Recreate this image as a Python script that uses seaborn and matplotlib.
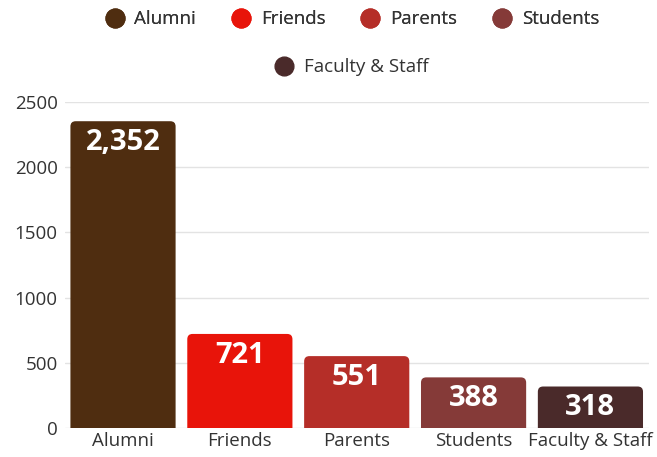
import matplotlib
matplotlib.use("Agg")
import matplotlib.pyplot as plt
from matplotlib.lines import Line2D
from matplotlib.patches import FancyBboxPatch
import seaborn as sns
import pandas as pd

categories = ["Alumni", "Friends", "Parents", "Students", "Faculty & Staff"]
counts = [2352, 721, 551, 388, 318]
value_labels = ["2,352", "721", "551", "388", "318"]
colors = ["#4f2d10", "#e8140a", "#b52e28", "#853a38", "#4a2a2a"]

sns.set_style("white")
plt.rcParams["font.family"] = ["Open Sans", "DejaVu Sans"]

df = pd.DataFrame({"group": categories, "count": counts})

fig = plt.figure(figsize=(6.57, 4.57), dpi=100)
ax = fig.add_axes([0.0983, 0.0635, 0.8893, 0.7135])

sns.barplot(data=df, x="group", y="count", hue="group", palette=colors,
            order=categories, hue_order=categories, width=0.9,
            saturation=1, legend=False, ax=ax, zorder=3)

ax.set_ylim(0, 2500)
ax.set_xlim(-0.5, 4.5)

# round the top corners of each bar (bottom corners fall below 0 and get clipped)
aspect = (2500 / 326) / (5 / 584)
for p in list(ax.patches):
    x, y, w, h = p.get_x(), p.get_y(), p.get_width(), p.get_height()
    fc = p.get_facecolor()
    p.remove()
    ax.add_patch(FancyBboxPatch((x, y - 80), w, h + 80,
                                boxstyle="round,pad=0,rounding_size=0.045",
                                mutation_aspect=aspect, fc=fc, ec="none", zorder=3))

ax.set_yticks([0, 500, 1000, 1500, 2000, 2500])
ax.yaxis.grid(True, color="#e3e3e3", linewidth=1, zorder=0)
ax.set_axisbelow(True)
sns.despine(ax=ax, left=True, bottom=True)
ax.set_xlabel("")
ax.set_ylabel("")
ax.tick_params(axis="both", length=0, labelsize=13.5, colors="#333333")
ax.tick_params(axis="y", pad=5)
ax.tick_params(axis="x", pad=3)

for i, (v, lab) in enumerate(zip(counts, value_labels)):
    ax.annotate(lab, (i, v), xytext=(0, -5), textcoords="offset points",
                ha="center", va="top", color="white", fontsize=21,
                fontweight="bold", zorder=5)

handles = [Line2D([0], [0], marker="o", linestyle="", markersize=13.5,
                  markerfacecolor=c, markeredgecolor=c) for c in colors]

leg1 = fig.legend(handles[:4], categories[:4], loc="center",
                  bbox_to_anchor=(0.529, 0.958), ncol=4, frameon=False,
                  fontsize=13.5, handletextpad=0.05, columnspacing=1.4,
                  labelcolor="#333333")
fig.add_artist(leg1)
fig.legend(handles[4:], categories[4:], loc="center",
           bbox_to_anchor=(0.528, 0.853), ncol=1, frameon=False,
           fontsize=13.5, handletextpad=0.05, labelcolor="#333333")

fig.savefig("out.png", dpi=100)
